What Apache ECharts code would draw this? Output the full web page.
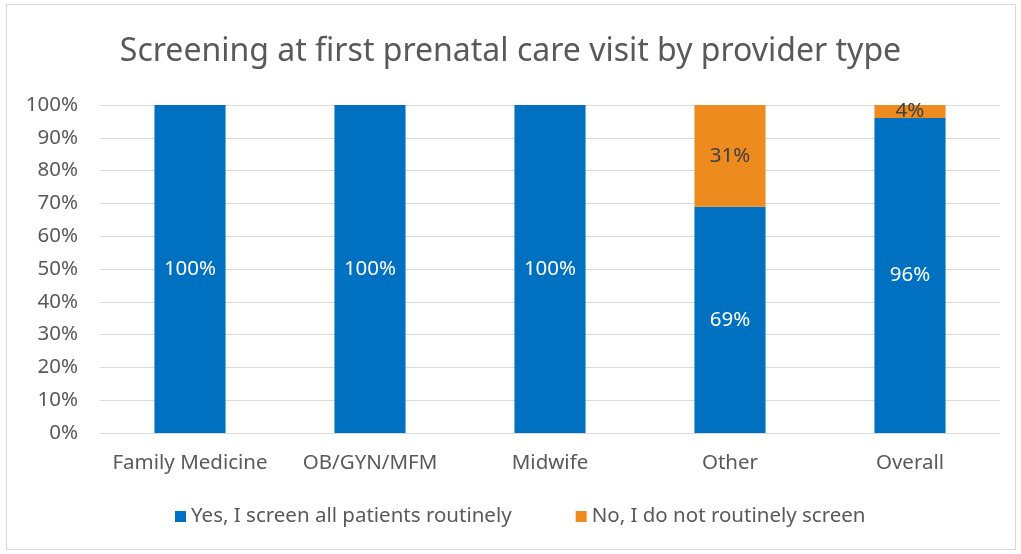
<!DOCTYPE html>
<html lang="en">
    <head>
        <meta charset="utf-8">
        <title>Screening at first prenatal care visit</title>
        <style>
            body { margin: 0; background: #fff; }
            #frame { position: absolute; left: 6px; top: 4px; width: 1010px; height: 546px; border: 1px solid #d9d9d9; box-sizing: border-box; }
            #echart { position: absolute; left: 0; top: 0; width: 1021px; height: 554px; }
        </style>
    </head>
    <body>
        <div id="frame"></div>
        <div id="echart"></div>
        <script src="https://cdn.jsdelivr.net/npm/echarts@6/dist/echarts.min.js"></script>
        <script>
            let categories = ['Family Medicine', 'OB/GYN/MFM', 'Midwife', 'Other', 'Overall'];
            let yesValues = [100, 100, 100, 69, 96];
            let noValues = [0, 0, 0, 31, 4];
            let seriesNames = ['Yes, I screen all patients routinely', 'No, I do not routinely screen'];

            let font = '"Noto Sans", sans-serif';
            let myChart = echarts.init(document.getElementById('echart'));
            let option = {
                animation: false,
                title: {
                    text: 'Screening at first prenatal care visit by provider type',
                    left: 'center',
                    top: 31,
                    textStyle: { fontFamily: font, fontSize: 32, fontWeight: 'normal', color: '#595959' }
                },
                grid: { left: 100, right: 21, top: 105, height: 328 },
                legend: {
                    bottom: 22,
                    left: 170,
                    itemWidth: 11,
                    itemHeight: 11,
                    itemGap: 64,
                    icon: 'rect',
                    textStyle: { fontFamily: font, fontSize: 20.5, color: '#595959' },
                    data: seriesNames
                },
                xAxis: {
                    type: 'category',
                    data: categories,
                    axisLine: { lineStyle: { color: '#d9d9d9' } },
                    axisTick: { show: false },
                    axisLabel: { fontFamily: font, fontSize: 20.5, color: '#595959', margin: 20, interval: 0 }
                },
                yAxis: {
                    type: 'value',
                    min: 0,
                    max: 100,
                    interval: 10,
                    axisLine: { show: false },
                    axisTick: { show: false },
                    splitLine: { lineStyle: { color: '#d9d9d9', width: 1 } },
                    axisLabel: { fontFamily: font, fontSize: 20.5, color: '#595959', formatter: '{value}%', margin: 22 }
                },
                series: [
                    {
                        name: seriesNames[0],
                        type: 'bar',
                        stack: 'total',
                        barWidth: '39.5%',
                        data: yesValues,
                        itemStyle: { color: '#0070C0' },
                        label: {
                            show: true,
                            position: 'inside',
                            formatter: '{c}%',
                            fontFamily: font,
                            fontSize: 20.5,
                            color: '#ffffff'
                        }
                    },
                    {
                        name: seriesNames[1],
                        type: 'bar',
                        stack: 'total',
                        data: noValues,
                        itemStyle: { color: '#ED8B1F' },
                        label: {
                            show: true,
                            position: 'inside',
                            formatter: p => p.value > 0 ? p.value + '%' : '',
                            fontFamily: font,
                            fontSize: 20.5,
                            color: '#404040'
                        }
                    }
                ]
            };
            myChart.setOption(option);
        </script>
    </body>
</html>
